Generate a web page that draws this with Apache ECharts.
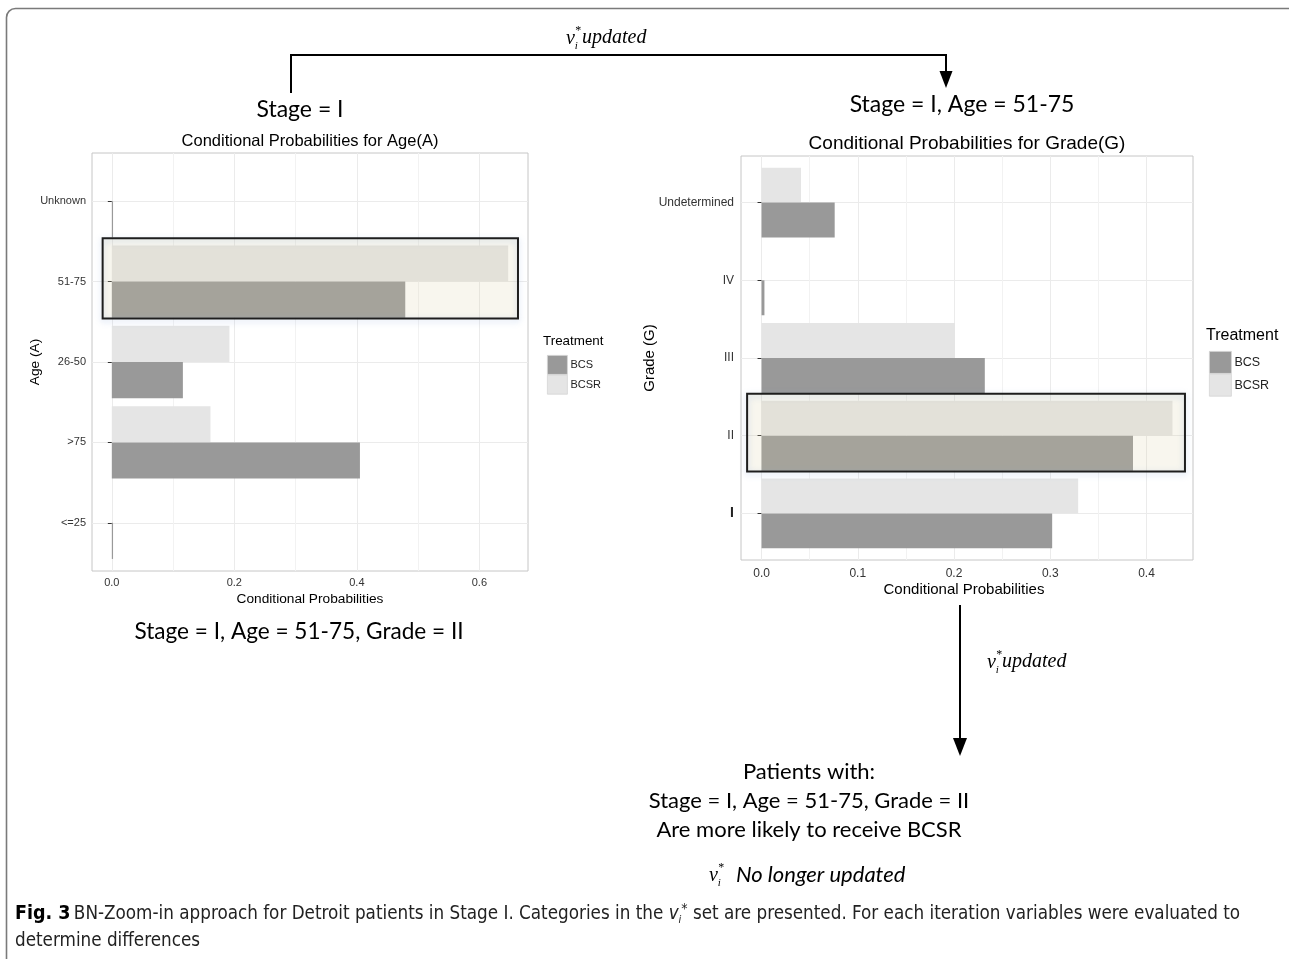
<!DOCTYPE html>
<html>
<head>
<meta charset="utf-8">
<script src="https://cdn.jsdelivr.net/npm/echarts@6/dist/echarts.min.js"></script>
<style>
  html, body { margin: 0; padding: 0; background: #fff; }
  #main { width: 1289px; height: 959px; }
</style>
</head>
<body>
<div id="main"></div>
<script>
// Stage I: conditional probabilities of treatment by age group
const ageCats = ['<=25', '>75', '26-50', '51-75', 'Unknown'];
const ageBCS = [0.002, 0.405, 0.116, 0.479, 0.002];
const ageBCSR = [0, 0.161, 0.192, 0.647, 0];
const ageTicks = [0, 0.2, 0.4, 0.6];
const ageMinorTicks = [0.1, 0.3, 0.5];
const ageSelected = '51-75';

// Stage I, Age 51-75: conditional probabilities of treatment by grade
const gradeCats = ['I', 'II', 'III', 'IV', 'Undetermined'];
const gradeBCS = [0.302, 0.386, 0.232, 0.003, 0.076];
const gradeBCSR = [0.329, 0.427, 0.201, 0, 0.041];
const gradeTicks = [0, 0.1, 0.2, 0.3, 0.4];
const gradeMinorTicks = [0.05, 0.15, 0.25, 0.35];
const gradeSelected = 'II';

const treatments = ['BCS', 'BCSR'];
const treatmentColors = ['#999999', '#e5e5e5'];

const SANS = '"Liberation Sans", Arial, sans-serif';
const NOTE = 'Lato, "Open Sans", sans-serif';
const SERIF = '"Liberation Serif", "DejaVu Serif", serif';
const CAPTION = '"Liberation Sans Narrow", "DejaVu Sans Condensed", Lato, sans-serif';

const chart = echarts.init(document.getElementById('main'), null, { renderer: 'canvas' });

// One ggplot-like panel = an outer grid (border, gridlines, labels on a
// continuous position scale) plus an inner grid holding the dodged bars.
function buildPanel(p, k) {
  const n = p.cats.length;
  const hi = Math.max(...p.bcs, ...p.bcsr);
  const pad = hi * 0.05;
  const xMin = -pad, xMax = hi + pad;
  const inset = p.box.height * 0.1 / (n + 0.2);
  const positions = p.cats.map((c, i) => i + 1);
  const gOuter = 2 * k, gInner = 2 * k + 1;
  const grids = [
    { left: p.box.left, top: p.box.top, width: p.box.width, height: p.box.height,
      show: true, borderColor: '#c6c6c6', borderWidth: 1, backgroundColor: '#fff', containLabel: false },
    { left: p.box.left, top: p.box.top + inset, width: p.box.width, height: p.box.height - 2 * inset,
      show: false, containLabel: false }
  ];
  const xAxes = [
    { gridIndex: gOuter, type: 'value', min: xMin, max: xMax,
      axisLine: { show: false },
      axisTick: { show: false, customValues: p.ticks },
      axisLabel: { customValues: p.ticks, formatter: v => v.toFixed(1), margin: p.xMargin,
        fontSize: p.tickSize, fontFamily: SANS, color: '#333' },
      splitLine: { show: true, lineStyle: { color: '#ebebeb', width: 1 } } },
    { gridIndex: gInner, type: 'value', min: xMin, max: xMax, show: false, splitLine: { show: false } }
  ];
  const yAxes = [
    { gridIndex: gOuter, type: 'value', min: 0.4, max: n + 0.6,
      axisLine: { show: false },
      axisTick: { show: true, customValues: positions, length: 4, lineStyle: { color: '#333', width: 1 } },
      axisLabel: { customValues: positions, margin: p.yMargin, fontSize: p.tickSize, fontFamily: SANS, color: '#333',
        formatter: v => {
          const c = p.cats[Math.round(v) - 1] || '';
          return c === 'I' ? '{b|I}' : c;
        },
        rich: { b: { fontSize: p.tickSize + 2, fontWeight: 'bold', fontFamily: SANS, color: '#222' } } },
      splitLine: { show: true, lineStyle: { color: '#ebebeb', width: 1 } } },
    { gridIndex: gInner, type: 'category', data: p.cats, show: false, boundaryGap: true }
  ];
  // horizontal bars stack their series top-down, so BCSR goes first to sit above BCS
  const series = [
    { type: 'line', name: 'minor', xAxisIndex: gOuter, yAxisIndex: gOuter, data: [], silent: true, z: 1,
      markLine: { silent: true, z: 1, symbol: ['none', 'none'], label: { show: false },
        lineStyle: { color: '#f2f2f2', width: 1, type: 'solid' },
        data: p.minor.map(v => ({ xAxis: v })) } },
    { type: 'bar', name: treatments[1], xAxisIndex: gInner, yAxisIndex: gInner, data: p.bcsr,
      barGap: '0%', barCategoryGap: '10%', itemStyle: { color: treatmentColors[1] }, z: 10 },
    { type: 'bar', name: treatments[0], xAxisIndex: gInner, yAxisIndex: gInner, data: p.bcs,
      barGap: '0%', barCategoryGap: '10%', itemStyle: { color: treatmentColors[0] }, z: 10 }
  ];
  return { grids, xAxes, yAxes, series, xMin, xMax };
}

const agePanel = buildPanel({
  cats: ageCats, bcs: ageBCS, bcsr: ageBCSR, ticks: ageTicks, minor: ageMinorTicks,
  box: { left: 92, top: 153, width: 436, height: 418 }, tickSize: 11, xMargin: 6, yMargin: 6
}, 0);
const gradePanel = buildPanel({
  cats: gradeCats, bcs: gradeBCS, bcsr: gradeBCSR, ticks: gradeTicks, minor: gradeMinorTicks,
  box: { left: 741, top: 156, width: 452, height: 404 }, tickSize: 12, xMargin: 8, yMargin: 7
}, 1);

function txt(x, y, text, size, opts) {
  const o = opts || {};
  return { type: 'text', x, y, rotation: o.rotation || 0, z: 200,
    style: { text, fontSize: size, fontFamily: o.family || NOTE, fontStyle: o.italic ? 'italic' : 'normal',
      fontWeight: o.bold ? 'bold' : 'normal', fill: o.color || '#000',
      align: o.align || 'center', verticalAlign: 'middle' } };
}

// italic v with superscript * and subscript i
function vStar(x, y, size) {
  return [
    txt(x, y, 'v', size, { family: SERIF, italic: true, align: 'left' }),
    txt(x + size * 0.46, y - size * 0.42, '*', size * 0.6, { family: SERIF, align: 'left' }),
    txt(x + size * 0.44, y + size * 0.38, 'i', size * 0.55, { family: SERIF, italic: true, align: 'left' })
  ];
}

const staticGraphics = [
  { type: 'rect', z: 150, shape: { x: 6.5, y: 8.5, width: 1320, height: 1020, r: 9 },
    style: { fill: 'none', stroke: '#7a7a7a', lineWidth: 1.6 } },

  // top bracket arrow
  { type: 'polyline', z: 200, shape: { points: [[291, 93], [291, 55], [946, 55], [946, 74]] },
    style: { stroke: '#000', lineWidth: 2, fill: 'none' } },
  { type: 'polygon', z: 200, shape: { points: [[939.5, 71], [952.5, 71], [946, 88]] }, style: { fill: '#000' } },
  ...vStar(566, 39, 20),
  txt(582, 38, 'updated', 20, { family: SERIF, italic: true, align: 'left' }),

  txt(300, 110, 'Stage = I', 23),
  txt(962, 105, 'Stage = I, Age = 51-75', 23),
  txt(299, 632, 'Stage = I, Age = 51-75, Grade = II', 22.6),

  // down arrow to the conclusion
  { type: 'line', z: 200, shape: { x1: 960, y1: 605, x2: 960, y2: 742 }, style: { stroke: '#000', lineWidth: 2 } },
  { type: 'polygon', z: 200, shape: { points: [[953, 738], [967, 738], [960, 756]] }, style: { fill: '#000' } },
  ...vStar(987, 663, 20),
  txt(1002, 662, 'updated', 20, { family: SERIF, italic: true, align: 'left' }),

  txt(809, 772, 'Patients with:', 22),
  txt(809, 801, 'Stage = I, Age = 51-75, Grade = II', 22),
  txt(809, 830, 'Are more likely to receive BCSR', 22),
  ...vStar(709, 876, 20),
  txt(736, 875, 'No longer updated', 22, { italic: true, align: 'left' }),

  // panel titles, axis titles, legend titles
  txt(310, 141, 'Conditional Probabilities for Age(A)', 16.5, { family: SANS }),
  txt(310, 599, 'Conditional Probabilities', 13.7, { family: SANS }),
  txt(35, 362, 'Age (A)', 13.7, { family: SANS, rotation: Math.PI / 2 }),
  txt(543, 341, 'Treatment', 13.4, { family: SANS, align: 'left' }),

  txt(967, 144, 'Conditional Probabilities for Grade(G)', 19, { family: SANS }),
  txt(964, 590, 'Conditional Probabilities', 15, { family: SANS }),
  txt(650, 358, 'Grade (G)', 15, { family: SANS, rotation: Math.PI / 2 }),
  txt(1206, 336, 'Treatment', 16, { family: SANS, align: 'left' }),

  // caption
  { type: 'text', x: 15, y: 914, z: 200,
    style: {
      text: '{b|Fig. 3} {n|BN-Zoom-in approach for Detroit patients in Stage I. Categories in the }{v|v}{i|i}{s|*}{n| set are presented. For each iteration variables were evaluated to}',
      verticalAlign: 'middle', align: 'left',
      rich: {
        b: { fontFamily: CAPTION, fontWeight: 'bold', fontSize: 19.5, fill: '#000', lineHeight: 24 },
        n: { fontFamily: CAPTION, fontSize: 18.7, fill: '#222', lineHeight: 24 },
        v: { fontFamily: CAPTION, fontStyle: 'italic', fontSize: 18.7, fill: '#222', lineHeight: 24 },
        i: { fontFamily: CAPTION, fontStyle: 'italic', fontSize: 11, fill: '#222', verticalAlign: 'bottom', lineHeight: 24 },
        s: { fontFamily: CAPTION, fontSize: 14, fill: '#222', verticalAlign: 'top', lineHeight: 24 }
      }
    } },
  { type: 'text', x: 15, y: 941, z: 200,
    style: { text: 'determine differences', fontFamily: CAPTION,
      fontSize: 18.7, fill: '#222', verticalAlign: 'middle', align: 'left' } }
];

const option = {
  animation: false,
  backgroundColor: '#fff',
  grid: [...agePanel.grids, ...gradePanel.grids],
  xAxis: [...agePanel.xAxes, ...gradePanel.xAxes],
  yAxis: [...agePanel.yAxes, ...gradePanel.yAxes],
  series: [...agePanel.series, ...gradePanel.series],
  legend: [
    { data: treatments, left: 542, top: 350, orient: 'vertical', icon: 'rect', itemGap: 0,
      itemWidth: 20, itemHeight: 19, selectedMode: false,
      itemStyle: { borderColor: '#d4d4d4', borderWidth: 0.8 },
      textStyle: { fontSize: 11, fontFamily: SANS, color: '#222', padding: [0, 0, 0, -2] } },
    { data: treatments, left: 1204, top: 346, orient: 'vertical', icon: 'rect', itemGap: 0,
      itemWidth: 22, itemHeight: 22, selectedMode: false,
      itemStyle: { borderColor: '#d4d4d4', borderWidth: 0.8 },
      textStyle: { fontSize: 12.5, fontFamily: SANS, color: '#222', padding: [0, 0, 0, -2] } }
  ],
  graphic: { elements: staticGraphics }
};
chart.setOption(option);

// Highlight box around the selected category of each panel:
// a warm translucent tint plus a separate outlined frame with a soft glow
function highlightBox(gridIdx, cats, selected, x0, x1) {
  const pos = cats.indexOf(selected) + 1;
  const a = chart.convertToPixel({ xAxisIndex: gridIdx, yAxisIndex: gridIdx }, [x0, pos + 0.54]);
  const b = chart.convertToPixel({ xAxisIndex: gridIdx, yAxisIndex: gridIdx }, [x1, pos - 0.46]);
  const shape = { x: a[0], y: a[1], width: b[0] - a[0], height: b[1] - a[1] };
  return [
    { type: 'rect', z: 120, shape, style: { fill: 'rgba(218,207,165,0.19)' } },
    { type: 'rect', z: 121, shape, style: { fill: 'none', stroke: '#1e1e1e', lineWidth: 2,
      shadowColor: 'rgba(140,170,220,0.45)', shadowBlur: 6, shadowOffsetY: 2 } }
  ];
}

chart.setOption({
  graphic: {
    elements: [
      ...staticGraphics,
      ...highlightBox(0, ageCats, ageSelected, -0.015, 0.663),
      ...highlightBox(2, gradeCats, gradeSelected, -0.015, 0.44)
    ]
  }
}, { replaceMerge: ['graphic'] });
</script>
</body>
</html>
